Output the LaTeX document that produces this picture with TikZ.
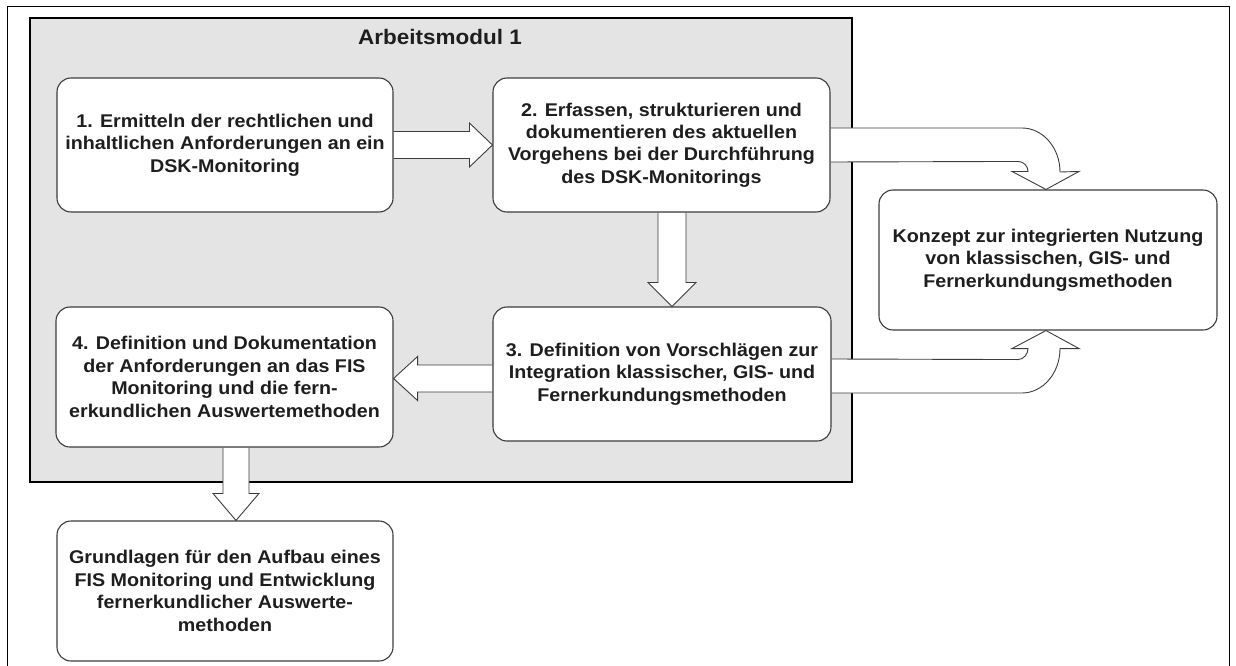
\documentclass[tikz,border=0pt]{standalone}
\usepackage{fontspec}
\setmainfont{Liberation Sans}[FakeStretch=1.07]
\usetikzlibrary{calc}
\pgfdeclarelayer{bg}
\pgfdeclarelayer{arrowlayer}
\pgfsetlayers{bg,arrowlayer,main}
\definecolor{modgray}{HTML}{E4E4E4}
\definecolor{edgegray}{HTML}{3C3C3C}
\definecolor{txt}{HTML}{1E1E1E}
\tikzset{
  stepbox/.style={draw=edgegray, line width=1.1pt, fill=white, rounded corners=14pt,
    align=center, inner sep=0pt, text=txt,
    font=\bfseries\fontsize{18.4}{22.4}\selectfont},
  blockarrow/.style={draw=edgegray, line width=0.9pt, fill=white, line join=miter},
  modframe/.style={draw=black, line width=2.8pt, fill=modgray, inner sep=0pt},
}
\begin{document}
\begin{tikzpicture}[x=1pt,y=-1pt]
\useasboundingbox (0,0) rectangle (1236,666);
% outer frame
\draw[line width=0.8pt] (7,666) -- (7,6) -- (1229,6) -- (1229,666);

\begin{pgfonlayer}{bg}
\node[modframe, minimum width=822pt, minimum height=464pt] (am) at (441,250) {};
\end{pgfonlayer}
\node[font=\bfseries\fontsize{21}{24}\selectfont, text=txt] (title) at (440,37) {Arbeitsmodul 1};

\node[stepbox, minimum width=336pt, minimum height=134pt] (b1) at (225,145)
  {1. Ermitteln der rechtlichen und\\inhaltlichen Anforderungen an ein\\DSK-Monitoring};
\node[stepbox, minimum width=337pt, minimum height=134pt] (b2) at (661.5,145)
  {2. Erfassen, strukturieren und\\dokumentieren des aktuellen\\Vorgehens bei der Durchführung\\des DSK-Monitorings};
\node[stepbox, minimum width=338pt, minimum height=134pt] (b3) at (662,374)
  {3. Definition von Vorschlägen zur\\Integration klassischer, GIS- und\\Fernerkundungsmethoden};
\node[stepbox, minimum width=337pt, minimum height=140pt] (b4) at (224.5,377)
  {4. Definition und Dokumentation\\der Anforderungen an das FIS\\Monitoring und die fern-\\erkundlichen Auswertemethoden};
\node[stepbox, minimum width=336pt, minimum height=140pt] (b5) at (225,591)
  {Grundlagen für den Aufbau eines\\FIS Monitoring und Entwicklung\\fernerkundlicher Auswerte-\\methoden};
\node[stepbox, minimum width=338pt, minimum height=140pt] (k) at (1048,260)
  {Konzept zur integrierten Nutzung\\von klassischen, GIS- und\\Fernerkundungsmethoden};

\begin{pgfonlayer}{arrowlayer}
% 1 -> 2
\draw[blockarrow] ($(b1.east)+(0,-13.5)$) -- ($(b2.west)+(-23,-13.5)$) -- ($(b2.west)+(-23,-22)$)
  -- (b2.west) -- ($(b2.west)+(-23,22)$) -- ($(b2.west)+(-23,13.5)$) -- ($(b1.east)+(0,13.5)$);
% 2 -> 3
\coordinate (a23) at ($(b2.south)+(10.5,0)$);
\coordinate (t23) at (a23 |- b3.north);
\draw[blockarrow] ($(a23)+(-14,0)$) -- ($(t23)+(-14,-24)$) -- ($(t23)+(-24,-24)$) -- (t23)
  -- ($(t23)+(24,-24)$) -- ($(t23)+(14,-24)$) -- ($(a23)+(14,0)$);
% 3 -> 4
\coordinate (a34) at ($(b3.west)+(0,4.5)$);
\coordinate (t34) at (b4.east |- a34);
\draw[blockarrow] ($(a34)+(0,-13.5)$) -- ($(t34)+(24,-13.5)$) -- ($(t34)+(24,-22)$) -- (t34)
  -- ($(t34)+(24,22)$) -- ($(t34)+(24,13.5)$) -- ($(a34)+(0,13.5)$);
% 4 -> 5
\coordinate (a45) at ($(b4.south)+(11.5,0)$);
\coordinate (t45) at (a45 |- b5.north);
\draw[blockarrow] ($(a45)+(-13,0)$) -- ($(t45)+(-13,-27)$) -- ($(t45)+(-23,-27)$) -- (t45)
  -- ($(t45)+(23,-27)$) -- ($(t45)+(13,-27)$) -- ($(a45)+(13,0)$);
% 2 -> Konzept (curved)
\coordinate (tU) at ($(k.north)+(-2,0)$);
\coordinate (P) at (tU |- b2.east);
\draw[blockarrow] ($(b2.east)+(0,-17)$) -- ($(P)+(-24,-17)$)
  .. controls ($(P)+(-3,-17)$) and ($(P)+(14,3)$) .. ($(P)+(14,27)$)
  -- ($(tU)+(33,-18)$) -- (tU) -- ($(tU)+(-34,-18)$) -- ($(tU)+(-18,-18)$)
  .. controls ($(tU)+(-18,-23.5)$) and ($(tU)+(-22.5,-28)$) .. ($(tU)+(-28,-28)$)
  -- ($(b2.east)+(0,17)$);
% 3 -> Konzept (curved)
\coordinate (tL) at ($(k.south)+(-2,0)$);
\coordinate (Q) at (tL |- b3.east);
\draw[blockarrow] ($(b3.east)+(0,19)$) -- ($(Q)+(-24,19)$)
  .. controls ($(Q)+(-3,19)$) and ($(Q)+(14,-1)$) .. ($(tL)+(14,18)$)
  -- ($(tL)+(33,18)$) -- (tL) -- ($(tL)+(-34,18)$) -- ($(tL)+(-18,18)$)
  .. controls ($(tL)+(-18,23.5)$) and ($(tL)+(-22.5,29)$) .. ($(tL)+(-28,29)$)
  -- ($(b3.east)+(0,-15)$);
\end{pgfonlayer}
\end{tikzpicture}
\end{document}
